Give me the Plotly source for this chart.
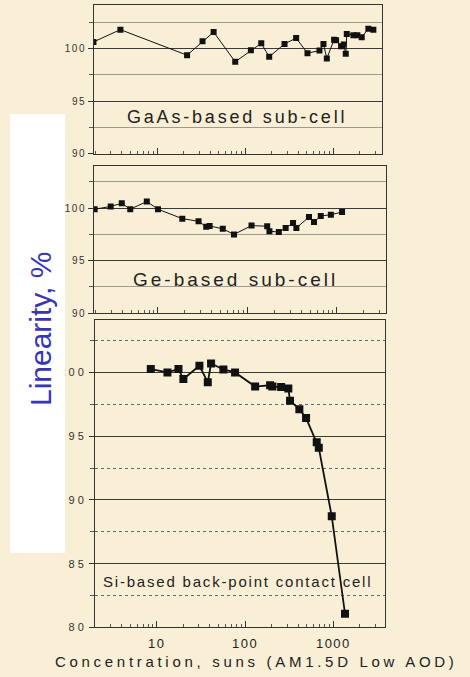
import plotly.graph_objects as go

# ---------------- data ----------------
gaas_x = [1.9, 3.84, 21.9, 32.8, 43.8, 77, 116, 152, 187, 279, 378, 508, 695, 771, 842,
          1018, 1072, 1222, 1310, 1380, 1418, 1685, 1870, 2095, 2490, 2838]
gaas_y = [100.63, 101.8, 99.37, 100.69, 101.57, 98.74, 99.84, 100.5, 99.21, 100.44, 101.0,
          99.56, 99.81, 100.44, 99.06, 100.85, 100.79, 100.22, 100.38, 99.5, 101.38, 101.26,
          101.26, 101.07, 101.89, 101.79]

ge_x = [1.96, 2.96, 3.94, 4.9, 7.5, 10, 18.7, 28.4, 34.6, 37.8, 53, 70.7, 111, 166, 176,
        224, 267, 323, 352, 487, 554, 659, 855, 1140]
ge_y = [99.9, 100.16, 100.47, 99.9, 100.63, 99.9, 99.0, 98.75, 98.22, 98.31, 98.03, 97.5,
        98.34, 98.28, 97.81, 97.72, 98.12, 98.59, 98.12, 99.16, 98.69, 99.25, 99.38, 99.63]

si_x = [8.55, 13.2, 17.6, 20, 30.4, 37.8, 41.2, 56.8, 77, 130, 192, 204, 256, 309, 323,
        412, 491, 648, 684, 959, 1355]
si_y = [100.26, 100.0, 100.26, 99.48, 100.52, 99.22, 100.7, 100.23, 100.0, 98.89, 98.99,
        98.89, 98.86, 98.73, 97.77, 97.12, 96.42, 94.53, 94.09, 88.71, 81.07]

x_major = [10, 100, 1000]
x_major_text = ["10", "100", "1000"]
x_minor = [2, 3, 4, 5, 6, 7, 8, 9, 20, 30, 40, 50, 60, 70, 80, 90,
           200, 300, 400, 500, 600, 700, 800, 900, 2000, 3000]
y_top_ticks = [90, 95, 100]
y_bot_ticks = [80, 85, 90, 95, 100]

panel_labels = ["GaAs-based sub-cell", "Ge-based sub-cell", "Si-based back-point contact cell"]
y_title = "Linearity, %"
x_title = "Concentration, suns (AM1.5D Low AOD)"

# ---------------- layout helpers ----------------
W, H = 470, 677
BG = "#f9efd6"
FONT = "Liberation Sans, Arial, sans-serif"


def px_x(p):
    return p / W


def px_y(p):
    return 1 - p / H


def spaced(t, sp):
    return f'<span style="letter-spacing:{sp}px">{t}</span>'


fig = go.Figure()

fig.add_trace(go.Scatter(x=gaas_x, y=gaas_y, mode="lines+markers", xaxis="x", yaxis="y",
                         line=dict(color="#111", width=1),
                         marker=dict(symbol="square", size=6, color="#111")))
fig.add_trace(go.Scatter(x=ge_x, y=ge_y, mode="lines+markers", xaxis="x2", yaxis="y2",
                         line=dict(color="#111", width=1),
                         marker=dict(symbol="square", size=6, color="#111")))
fig.add_trace(go.Scatter(x=si_x, y=si_y, mode="lines+markers", xaxis="x3", yaxis="y3",
                         line=dict(color="#111", width=1.8),
                         marker=dict(symbol="square", size=8, color="#111")))


def xaxis(dom, anchor, rng, labels):
    return dict(type="log", domain=dom, anchor=anchor, range=rng,
                showline=True, linecolor="#333", linewidth=1, mirror=True,
                showgrid=False, zeroline=False,
                tickmode="array", tickvals=x_major,
                ticktext=[spaced(t, 1.5) for t in x_major_text],
                showticklabels=labels, ticklabelstandoff=4,
                ticks="inside", ticklen=6, tickcolor="#333",
                tickfont=dict(family=FONT, size=13, color="#222"),
                minor=dict(tickmode="array", tickvals=x_minor, ticks="inside",
                           ticklen=3, tickcolor="#555", showgrid=False))


def yaxis(dom, anchor, rng, ticks, minor_dash, minor_color, fsize, sp, standoff):
    return dict(domain=dom, anchor=anchor, range=rng,
                showline=True, linecolor="#333", linewidth=1, mirror=True,
                zeroline=False,
                tickmode="array", tickvals=ticks,
                ticktext=[spaced(str(t), sp) for t in ticks],
                ticks="outside", ticklen=5, tickcolor="#333", ticklabelstandoff=standoff,
                tickfont=dict(family=FONT, size=fsize, color="#333"),
                showgrid=True, gridcolor="#3a3a3a", gridwidth=1,
                minor=dict(tickmode="array",
                           tickvals=[v + 2.5 for v in ticks],
                           showgrid=True, gridcolor=minor_color, gridwidth=1,
                           griddash=minor_dash, ticks="outside", ticklen=4,
                           tickcolor="#555"))


fig.update_layout(
    width=W, height=H, margin=dict(l=0, r=0, t=0, b=0),
    paper_bgcolor=BG, plot_bgcolor=BG, showlegend=False,
    xaxis=xaxis([px_x(94), px_x(382)], "y", [0.285, 3.551], False),
    yaxis=yaxis([px_y(155), px_y(5)], "x", [90, 104.15], y_top_ticks, "solid", "#a09a8e", 10, 1.5, 0),
    xaxis2=xaxis([px_x(94), px_x(386)], "y2", [0.285, 3.548], False),
    yaxis2=yaxis([px_y(316), px_y(167)], "x2", [90, 104.06], y_top_ticks, "solid", "#a09a8e", 10, 1.5, 0),
    xaxis3=xaxis([px_x(95), px_x(385)], "y3", [0.30, 3.585], True),
    yaxis3=yaxis([px_y(633), px_y(323)], "x3", [80, 104.1], y_bot_ticks, "dot", "#666", 11, 3, 0),
)

# white box behind the y title
fig.add_shape(type="rect", xref="paper", yref="paper",
              x0=px_x(10), x1=px_x(65), y0=px_y(558), y1=px_y(115),
              fillcolor="white", line=dict(width=0), layer="above")

ann = []
ann.append(dict(text=spaced(panel_labels[0], 2.8), x=px_x(237), y=px_y(118),
                font=dict(family=FONT, size=18, color="#222")))
ann.append(dict(text=spaced(panel_labels[1], 3), x=px_x(235), y=px_y(282),
                font=dict(family=FONT, size=19, color="#222")))
ann.append(dict(text=spaced(panel_labels[2], 1.8), x=px_x(237), y=px_y(587),
                font=dict(family=FONT, size=15, color="#222")))
ann.append(dict(text=spaced(x_title, 3.7), x=px_x(256), y=px_y(667),
                font=dict(family=FONT, size=15, color="#222")))
ann.append(dict(text=y_title, x=px_x(40), y=px_y(332), textangle=-90,
                font=dict(family=FONT, size=30, color="#3535b5")))
for a in ann:
    a.update(xref="paper", yref="paper", showarrow=False, xanchor="center", yanchor="middle")
fig.update_layout(annotations=ann)

fig.write_html("out.html")
